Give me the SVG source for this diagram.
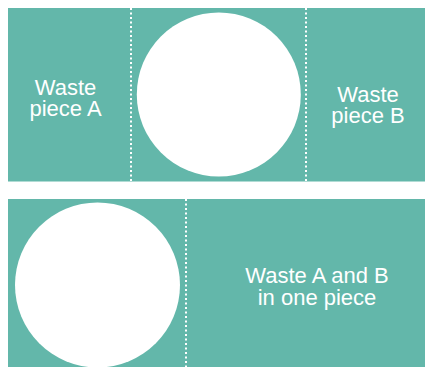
<svg xmlns="http://www.w3.org/2000/svg" width="425" height="367" viewBox="0 0 425 367">
<style>
.panel{fill:#63b7aa}
.hole{fill:#fff}
.cut{stroke:#fff;stroke-width:2;stroke-dasharray:2 2.5;fill:none}
.lbl{font-family:"Liberation Sans",Arial,sans-serif;font-size:22px;fill:#fff;text-anchor:middle}
</style>
<rect width="425" height="367" fill="#fff"/>
<g id="top-sheet">
<rect class="panel" x="8" y="8" width="417" height="173.5"/>
<circle class="hole" cx="218.8" cy="94.5" r="82"/>
</g>
<g id="bottom-sheet">
<rect class="panel" x="8" y="199" width="417" height="168"/>
<circle class="hole" cx="97.5" cy="285" r="82.5"/>
</g>
<g id="connectors">
<line class="cut" x1="131" y1="8" x2="131" y2="181.5"/>
<line class="cut" x1="306" y1="8" x2="306" y2="181.5"/>
<line class="cut" x1="186" y1="199" x2="186" y2="367"/>
</g>
<g id="label-a">
<text class="lbl" x="65.5" y="94.5">Waste</text>
<text class="lbl" x="65.5" y="116">piece A</text>
</g>
<g id="label-b">
<text class="lbl" x="368" y="101.5">Waste</text>
<text class="lbl" x="368" y="123">piece B</text>
</g>
<g id="label-ab">
<text class="lbl" x="317" y="282.5">Waste A and B</text>
<text class="lbl" x="317" y="304.5">in one piece</text>
</g>
</svg>
